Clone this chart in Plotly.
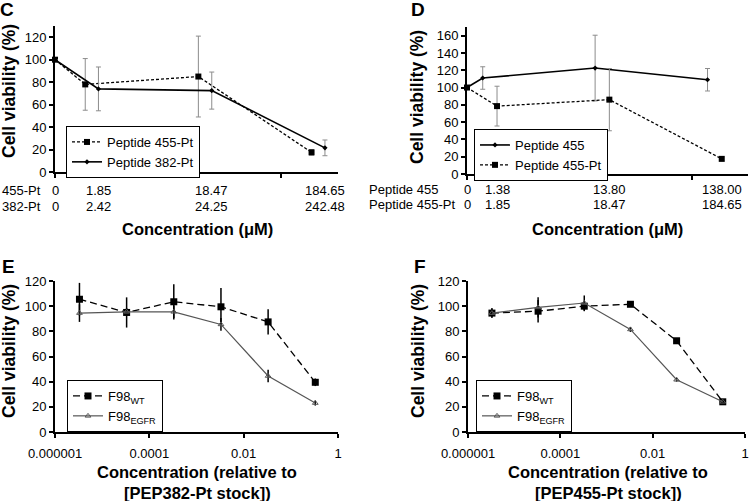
import math
import plotly.graph_objects as go

W, H = 750, 501
FONT = "Arial, 'Liberation Sans', sans-serif"

# ---------------- data ----------------
# Panel C
conc_455pt_C = [0, 1.85, 18.47, 184.65]
conc_382pt_C = [0, 2.42, 24.25, 242.48]
via_455pt_C = [100, 78, 85, 17.5]
err_455pt_C = [0, 23, 36, 2.5]
via_382pt_C = [100, 74, 72.5, 21.5]
err_382pt_C = [0, 19.5, 16.5, 7]
rows_C = ["455-Pt", "382-Pt"]

# Panel D
conc_455_D = [0, 1.38, 13.80, 138.00]
conc_455pt_D = [0, 1.85, 18.47, 184.65]
via_455_D = [100, 111, 122.5, 109]
err_455_D = [0, 13, 38, 13]
via_455pt_D = [100, 78.5, 86, 17.5]
err_455pt_D = [0, 23, 36, 2]
rows_D = ["Peptide 455", "Peptide 455-Pt"]

# Panels E and F (relative concentration)
rel_conc = [3.3e-6, 3.3e-5, 3.3e-4, 3.3e-3, 3.3e-2, 0.33]
via_wt_E = [105.5, 95, 103.5, 99.5, 87.5, 39.5]
err_wt_E = [13, 12, 14, 15, 10, 3]
via_egfr_E = [94.5, 95.5, 95.5, 85.5, 44.5, 23]
err_egfr_E = [7, 3, 5, 5, 5, 2]
via_wt_F = [94.5, 96, 100, 101.5, 72.5, 24]
err_wt_F = [3, 9, 4, 1.5, 2, 1.5]
via_egfr_F = [94.5, 99, 102.5, 81.5, 41.5, 24]
err_egfr_F = [4, 8, 6, 2, 1.5, 1.5]
rel_ticks = [1e-6, 1e-4, 1e-2, 1]
rel_ticktext = ["0.000001", "0.0001", "0.01", "1"]


def px(x):
    return x / W


def py(y):
    return 1 - y / H


def plotpos(c):
    # zero concentration is drawn at the axis origin (10^0) of the log scale
    return [v if v > 0 else 1.0 for v in c]


def fmt(v):
    return "0" if v == 0 else ("%.2f" % v)


def err(a, color="#8c8c8c", width=2.5, thick=1):
    return dict(type="data", array=a, visible=True, color=color, thickness=thick, width=width)


fig = go.Figure()

# ---- Panel C ----
fig.add_trace(go.Scatter(x=plotpos(conc_455pt_C), y=via_455pt_C, error_y=err(err_455pt_C),
                         mode="lines+markers", name="Peptide 455-Pt",
                         line=dict(color="black", width=1.3, dash="3px,2px"),
                         marker=dict(symbol="square", size=6, color="black"),
                         xaxis="x", yaxis="y", legend="legend", cliponaxis=False))
fig.add_trace(go.Scatter(x=plotpos(conc_382pt_C), y=via_382pt_C, error_y=err(err_382pt_C),
                         mode="lines+markers", name="Peptide 382-Pt",
                         line=dict(color="black", width=1.6),
                         marker=dict(symbol="diamond", size=4, color="black"),
                         xaxis="x", yaxis="y", legend="legend", cliponaxis=False))

# ---- Panel D ----
fig.add_trace(go.Scatter(x=plotpos(conc_455_D), y=via_455_D, error_y=err(err_455_D),
                         mode="lines+markers", name="Peptide 455",
                         line=dict(color="black", width=1.6),
                         marker=dict(symbol="diamond", size=4, color="black"),
                         xaxis="x2", yaxis="y2", legend="legend2", cliponaxis=False))
fig.add_trace(go.Scatter(x=plotpos(conc_455pt_D), y=via_455pt_D, error_y=err(err_455pt_D),
                         mode="lines+markers", name="Peptide 455-Pt",
                         line=dict(color="black", width=1.3, dash="3px,2px"),
                         marker=dict(symbol="square", size=6, color="black"),
                         xaxis="x2", yaxis="y2", legend="legend2", cliponaxis=False))

# ---- Panel E ----
fig.add_trace(go.Scatter(x=rel_conc, y=via_wt_E, error_y=err(err_wt_E, "black", 0, 1.5),
                         mode="lines+markers", name="F98<sub>WT</sub>",
                         line=dict(color="black", width=1.3, dash="7px,4px"),
                         marker=dict(symbol="square", size=7, color="black"),
                         xaxis="x3", yaxis="y3", legend="legend3", cliponaxis=False))
fig.add_trace(go.Scatter(x=rel_conc, y=via_egfr_E, error_y=err(err_egfr_E, "black", 0, 1.5),
                         mode="lines+markers", name="F98<sub>EGFR</sub>",
                         line=dict(color="#555555", width=1.2),
                         marker=dict(symbol="triangle-up-open", size=5, color="#555555"),
                         xaxis="x3", yaxis="y3", legend="legend3", cliponaxis=False))

# ---- Panel F ----
fig.add_trace(go.Scatter(x=rel_conc, y=via_wt_F, error_y=err(err_wt_F, "black", 0, 1.5),
                         mode="lines+markers", name="F98<sub>WT</sub>",
                         line=dict(color="black", width=1.3, dash="7px,4px"),
                         marker=dict(symbol="square", size=7, color="black"),
                         xaxis="x4", yaxis="y4", legend="legend4", cliponaxis=False))
fig.add_trace(go.Scatter(x=rel_conc, y=via_egfr_F, error_y=err(err_egfr_F, "black", 0, 1.5),
                         mode="lines+markers", name="F98<sub>EGFR</sub>",
                         line=dict(color="#555555", width=1.2),
                         marker=dict(symbol="triangle-up-open", size=5, color="#555555"),
                         xaxis="x4", yaxis="y4", legend="legend4", cliponaxis=False))

axis_common = dict(showline=True, linecolor="black", linewidth=1.8, showgrid=False,
                   zeroline=False, ticks="outside", ticklen=4, tickwidth=1.5, automargin=False,
                   tickcolor="black", tickfont=dict(size=13, family=FONT, color="black"))

xC = dict(axis_common, type="log", range=[0, 2.5], domain=[px(55), px(338)],
          tickvals=[1, 10, 100], showticklabels=False, anchor="y")
yC = dict(axis_common, range=[0, 130], tickvals=[0, 20, 40, 60, 80, 100, 120],
          domain=[py(172), py(26)], anchor="x")
xD = dict(axis_common, type="log", range=[0, 2.5], domain=[px(467), px(748)],
          tickvals=[1, 10, 100], showticklabels=False, anchor="y2")
yD = dict(axis_common, range=[0, 170], tickvals=list(range(0, 161, 20)),
          domain=[py(174), py(27)], anchor="x2")
xE = dict(axis_common, type="log", range=[-6, 0], domain=[px(55), px(338)],
          tickvals=rel_ticks, ticktext=rel_ticktext, anchor="y3", ticklabelstandoff=4)
yE = dict(axis_common, range=[0, 120], tickvals=list(range(0, 121, 20)),
          domain=[py(432), py(281)], anchor="x3")
xF = dict(axis_common, type="log", range=[-6, 0], domain=[px(468), px(745)],
          tickvals=rel_ticks, ticktext=rel_ticktext, anchor="y4", ticklabelstandoff=4)
yF = dict(axis_common, range=[0, 120], tickvals=list(range(0, 121, 20)),
          domain=[py(432), py(281)], anchor="x4")

leg_common = dict(bgcolor="white", bordercolor="black", borderwidth=1,
                  font=dict(size=13, family=FONT, color="black"),
                  xanchor="left", yanchor="top", itemwidth=30, tracegroupgap=0)

ann = []


def add_text(x, y, text, size=13, bold=False, angle=0, xanchor="center"):
    ann.append(dict(x=px(x), y=py(y), xref="paper", yref="paper",
                    text=("<b>%s</b>" % text) if bold else text,
                    showarrow=False, textangle=angle, xanchor=xanchor, yanchor="middle",
                    font=dict(size=size, family=FONT, color="black")))


# panel letters
add_text(7, 9, "C", 19, True)
add_text(418, 9, "D", 19, True)
add_text(8, 266, "E", 19, True)
add_text(420, 266, "F", 19, True)

# y titles
add_text(9, 91, "Cell viability (%)", 17.5, True, -90)
add_text(417, 97, "Cell viability (%)", 17.5, True, -90)
add_text(9, 351, "Cell viability (%)", 17.5, True, -90)
add_text(418, 351, "Cell viability (%)", 17.5, True, -90)

# x titles
add_text(197, 229, "Concentration (μM)", 16.5, True)
add_text(607, 229, "Concentration (μM)", 16.5, True)
add_text(197, 472, "Concentration (relative to", 16.5, True)
add_text(197, 493, "[PEP382-Pt stock])", 16.5, True)
add_text(608, 472, "Concentration (relative to", 16.5, True)
add_text(608, 493, "[PEP455-Pt stock])", 16.5, True)

# two-row concentration labels (placed on the log axes at the data positions)
for row, (vals, yy) in enumerate([(conc_455pt_C, 190), (conc_382pt_C, 206)]):
    for lab_v, pos_v in zip(vals, plotpos(conc_382pt_C)):
        ann.append(dict(x=math.log10(pos_v), xref="x", y=py(yy), yref="paper",
                        text=fmt(lab_v), showarrow=False, xanchor="center", yanchor="middle",
                        font=dict(size=13, family=FONT, color="black")))
    add_text(0, yy, rows_C[row], 13, False, 0, "left")

for row, (vals, yy) in enumerate([(conc_455_D, 189), (conc_455pt_D, 205)]):
    for lab_v, pos_v in zip(vals, plotpos(conc_455pt_D)):
        ann.append(dict(x=math.log10(pos_v), xref="x2", y=py(yy), yref="paper",
                        text=fmt(lab_v), showarrow=False, xanchor="center", yanchor="middle",
                        font=dict(size=13, family=FONT, color="black")))
    add_text(367, yy, rows_D[row], 13, False, 0, "left")

fig.update_layout(
    template="none",
    width=W, height=H, margin=dict(l=0, r=0, t=0, b=0, pad=0, autoexpand=False),
    paper_bgcolor="white", plot_bgcolor="white",
    font=dict(family=FONT, color="black"),
    xaxis=xC, yaxis=yC, xaxis2=xD, yaxis2=yD, xaxis3=xE, yaxis3=yE, xaxis4=xF, yaxis4=yF,
    legend=dict(leg_common, x=px(66), y=py(126)),
    legend2=dict(leg_common, x=px(474), y=py(129)),
    legend3=dict(leg_common, x=px(67), y=py(380)),
    legend4=dict(leg_common, x=px(476), y=py(380)),
    annotations=ann,
    showlegend=True,
)

fig.write_html("out.html", config={"displayModeBar": False},
               post_script="document.body.style.margin='0';document.body.style.overflow='hidden';")
